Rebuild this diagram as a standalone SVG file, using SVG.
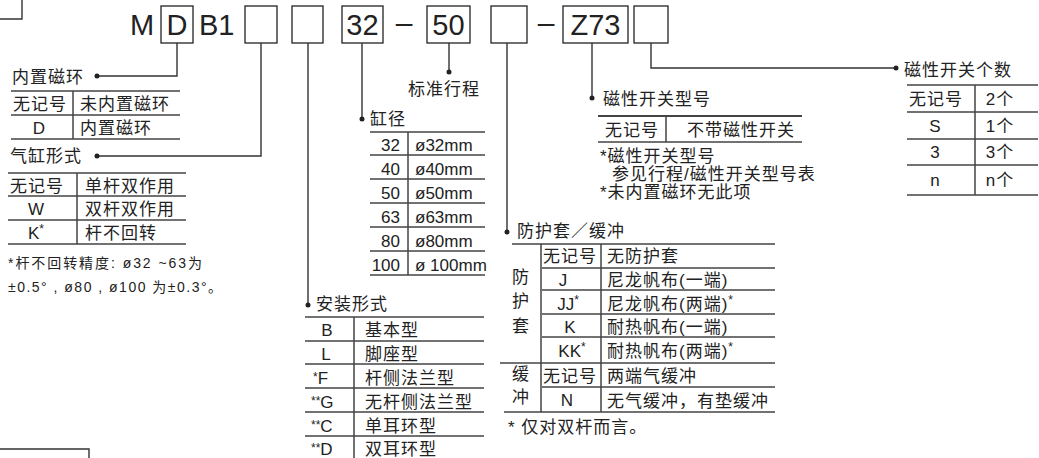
<svg xmlns="http://www.w3.org/2000/svg" width="1039" height="458" viewBox="0 0 1039 458">
<style>
text{font-family:"Liberation Sans","Noto Sans CJK SC",sans-serif;fill:#222}
.t{font-size:17px;letter-spacing:1px}
.n{font-size:17px}
.big{font-size:29px}
.sm{font-size:14px}
.c{text-anchor:middle}
.r{text-anchor:end}
.box{fill:none;stroke:#222;stroke-width:1.3}
.ln{fill:none;stroke:#333;stroke-width:1.4}
.rule{stroke:#444;stroke-width:1.5;fill:none}
.dot{fill:#222}
.ast{font-size:12px}
</style>
<g id="code">
<text class="big" x="130" y="35">M</text>
<rect class="box" x="161" y="6" width="32" height="37"/>
<text class="big c" x="177" y="35">D</text>
<text class="big" x="199" y="35">B1</text>
<rect class="box" x="245" y="6" width="32" height="37"/>
<rect class="box" x="292" y="6" width="31" height="37"/>
<rect class="box" x="342" y="6" width="41" height="37"/>
<text class="big c" x="362.5" y="35">32</text>
<text class="big c" x="404" y="33" style="font-size:30px">–</text>
<rect class="box" x="427" y="6" width="43" height="37"/>
<text class="big c" x="448.5" y="35">50</text>
<rect class="box" x="491" y="6" width="36" height="37"/>
<text class="big c" x="546" y="33" style="font-size:30px">–</text>
<rect class="box" x="563" y="6" width="65" height="37"/>
<text class="big c" x="595.5" y="35">Z73</text>
<rect class="box" x="634" y="6" width="34" height="37"/>
</g>
<g id="connectors">
<path class="ln" d="M22 0V19H0"/>
<path class="ln" d="M0 449H89V458"/>
<path class="ln" d="M177 43V76H97"/>
<circle class="dot" cx="97" cy="76" r="2.5"/>
<path class="ln" d="M261 43V156H97"/>
<circle class="dot" cx="97" cy="156" r="2.5"/>
<path class="ln" d="M308 43V305"/>
<circle class="dot" cx="308" cy="305" r="2.5"/>
<path class="ln" d="M362 43V119"/>
<circle class="dot" cx="362" cy="119" r="2.5"/>
<path class="ln" d="M449 43V72"/>
<circle class="dot" cx="449" cy="72" r="2.5"/>
<path class="ln" d="M507 43V232"/>
<circle class="dot" cx="507" cy="232" r="2.5"/>
<path class="ln" d="M592 43V98"/>
<circle class="dot" cx="592" cy="98" r="2.5"/>
<path class="ln" d="M651 43V68H896"/>
<circle class="dot" cx="896" cy="68" r="2.5"/>
</g>
<g id="magnet-ring">
<text class="t" x="12" y="83">内置磁环</text>
<path class="rule" d="M11 91H180M11 115H180M11 139H180M73 91V139"/>
<text class="t c" x="40" y="110">无记号</text>
<text class="t" x="80" y="110">未内置磁环</text>
<text class="n c" x="39" y="134">D</text>
<text class="t" x="80" y="134">内置磁环</text>
</g>
<g id="cylinder-type">
<text class="t" x="10" y="162">气缸形式</text>
<path class="rule" d="M8 173H186M8 196H186M8 220H186M8 244H186M77 173V244"/>
<text class="t c" x="37" y="192">无记号</text>
<text class="t" x="85" y="192">单杆双作用</text>
<text class="n c" x="36" y="215">W</text>
<text class="t" x="85" y="215">双杆双作用</text>
<text class="n" x="28" y="239">K<tspan class="ast" dy="-6">*</tspan></text>
<text class="t" x="85" y="239">杆不回转</text>
<text class="sm" x="8" y="268" textLength="194" lengthAdjust="spacing">*杆不回转精度: ø32 ~63为</text>
<text class="sm" x="8" y="292" textLength="214" lengthAdjust="spacing">±0.5° , ø80 , ø100 为±0.3°。</text>
</g>
<g id="stroke">
<text class="t" x="408" y="95">标准行程</text>
</g>
<g id="bore">
<text class="t" x="370" y="125">缸径</text>
<path class="rule" d="M370 132H485M370 155H485M370 179H485M370 203H485M370 227H485M370 251H485M370 275H485M408 132V275"/>
<text class="n r" x="400" y="151">32</text><text class="n" x="415" y="151">ø32mm</text>
<text class="n r" x="400" y="175">40</text><text class="n" x="415" y="175">ø40mm</text>
<text class="n r" x="400" y="199">50</text><text class="n" x="415" y="199">ø50mm</text>
<text class="n r" x="400" y="223">63</text><text class="n" x="415" y="223">ø63mm</text>
<text class="n r" x="400" y="247">80</text><text class="n" x="415" y="247">ø80mm</text>
<text class="n r" x="400" y="271">100</text><text class="n" x="415" y="271">ø 100mm</text>
</g>
<g id="mounting">
<text class="t" x="316" y="310">安装形式</text>
<path class="rule" d="M305 317H484M305 341H484M305 364H484M305 388H484M305 412H484M305 436H484M354 317V458"/>
<text class="n c" x="327" y="336">B</text><text class="t" x="365" y="336">基本型</text>
<text class="n c" x="326" y="360">L</text><text class="t" x="365" y="360">脚座型</text>
<text class="n" x="313" y="384"><tspan class="ast" dy="-3">*</tspan><tspan dy="3">F</tspan></text><text class="t" x="365" y="384">杆侧法兰型</text>
<text class="n" x="311" y="408"><tspan class="ast" dy="-3">**</tspan><tspan dy="3">G</tspan></text><text class="t" x="365" y="408">无杆侧法兰型</text>
<text class="n" x="311" y="432"><tspan class="ast" dy="-3">**</tspan><tspan dy="3">C</tspan></text><text class="t" x="365" y="432">单耳环型</text>
<text class="n" x="311" y="455"><tspan class="ast" dy="-3">**</tspan><tspan dy="3">D</tspan></text><text class="t" x="365" y="455">双耳环型</text>
</g>
<g id="boot-cushion">
<text class="t" x="517" y="237">防护套／缓冲</text>
<path class="rule" d="M512 244H775M542 268H775M542 290H775M542 314H775M542 337H775M500 363H775M542 387H775M504 412H775M541 244V412M601 244V412"/>
<text class="t" x="512" y="283">防</text>
<text class="t" x="512" y="307">护</text>
<text class="t" x="512" y="332">套</text>
<text class="t" x="512" y="380">缓</text>
<text class="t" x="512" y="403">冲</text>
<text class="t c" x="570" y="262">无记号</text><text class="t" x="607" y="262">无防护套</text>
<text class="n c" x="563" y="286">J</text><text class="t" x="607" y="286">尼龙帆布(一端)</text>
<text class="n c" x="568" y="310">JJ<tspan class="ast" dy="-6">*</tspan></text><text class="t" x="607" y="310">尼龙帆布(两端)<tspan class="ast" dy="-6">*</tspan></text>
<text class="n c" x="570" y="333">K</text><text class="t" x="607" y="333">耐热帆布(一端)</text>
<text class="n c" x="572" y="357">KK<tspan class="ast" dy="-6">*</tspan></text><text class="t" x="607" y="357">耐热帆布(两端)<tspan class="ast" dy="-6">*</tspan></text>
<text class="t c" x="570" y="382">无记号</text><text class="t" x="607" y="382">两端气缓冲</text>
<text class="n c" x="567" y="406">N</text><text class="t" x="607" y="407">无气缓冲，有垫缓冲</text>
<text class="t" x="508" y="433">* 仅对双杆而言。</text>
</g>
<g id="switch-model">
<text class="t" x="603" y="105">磁性开关型号</text>
<path class="rule" d="M598 116H802" style="stroke-width:2.2"/>
<path class="rule" d="M598 142H802M666 116V142"/>
<text class="t" x="605" y="136">无记号</text>
<text class="t" x="687" y="136">不带磁性开关</text>
<text class="t" x="600" y="162">*磁性开关型号</text>
<text class="t" x="612" y="180">参见行程/磁性开关型号表</text>
<text class="t" x="600" y="198">*未内置磁环无此项</text>
</g>
<g id="switch-count">
<text class="t" x="904" y="76">磁性开关个数</text>
<path class="rule" d="M907 85H1038M907 112H1038M907 139H1038M907 165H1038M907 195H1038M975 85V195"/>
<text class="t c" x="936" y="105">无记号</text><text class="t c" x="1000" y="105">2个</text>
<text class="n c" x="935" y="132">S</text><text class="t c" x="1000" y="132">1个</text>
<text class="n c" x="935" y="158">3</text><text class="t c" x="1000" y="158">3个</text>
<text class="n c" x="935" y="186">n</text><text class="t c" x="1000" y="186">n个</text>
</g>
</svg>
